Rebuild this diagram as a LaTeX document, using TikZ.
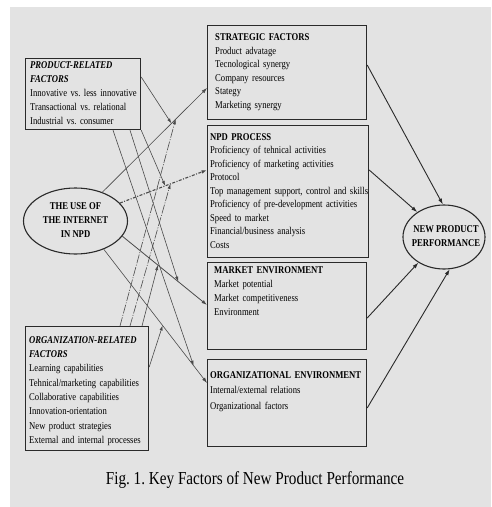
\documentclass[tikz,border=0pt]{standalone}
\usepackage{fontspec}
\setmainfont{Liberation Serif}[FakeStretch=0.83]
\usetikzlibrary{arrows.meta,shapes.geometric,calc}
\definecolor{bg}{HTML}{E3E3E3}
\definecolor{edge}{HTML}{2A2A2A}
\definecolor{conn}{HTML}{4A4A4A}
\frenchspacing
\begin{document}
\begin{tikzpicture}[x=1pt,y=-1pt,
  box/.style={draw=edge,line width=1.2pt,anchor=north west,inner sep=0pt},
  ell/.style={ellipse,draw=edge,line width=1.1pt,inner sep=0pt},
  txt/.style={anchor=base west,inner sep=0pt,align=left,text width=200pt,font=\fontsize{10.4}{#1}\selectfont},
  ctxt/.style={inner sep=0pt,align=center,font=\bfseries\fontsize{10.4}{14}\selectfont},
  mod/.style={draw=conn,line width=0.6pt,-{Latex[length=5pt,width=3.2pt]}},
  moddd/.style={mod,dash pattern=on 9pt off 1.5pt on 1pt off 1.5pt},
  main/.style={draw=conn,line width=0.8pt,-{Latex[length=5.5pt,width=3.6pt]}},
  maindd/.style={main,line width=1.1pt,dash pattern=on 3pt off 1.5pt on 1pt off 1.5pt},
  big/.style={draw=edge,line width=0.9pt,-{Latex[length=6pt,width=4pt]}}]
\useasboundingbox (0,0) rectangle (491,507);
\fill[bg] (10,7) rectangle (491,507);

% boxes
\node[box,minimum width=159pt,minimum height=94pt] (strat) at (207,25) {};
\node[box,minimum width=161pt,minimum height=132pt] (npd) at (207,125) {};
\node[box,minimum width=159pt,minimum height=87pt] (market) at (207,262) {};
\node[box,minimum width=159pt,minimum height=87pt] (orgenv) at (207,359) {};
\node[box,minimum width=115pt,minimum height=71pt] (prod) at (25,58) {};
\node[box,minimum width=123pt,minimum height=124pt] (org) at (25,326) {};
\node[ell,minimum width=104pt,minimum height=66pt] (inet) at (75.5,221) {};
\node[ell,minimum width=82pt,minimum height=64pt] (npp) at (444,237) {};

% texts
\node[txt=13.6] (tstrat) at (215,40.5) {\textbf{STRATEGIC FACTORS}\\Product advatage\\Tecnological synergy\\Company resources\\Stategy\\Marketing synergy};
\node[txt=13.5] (tnpd) at (210,140.3) {\textbf{NPD PROCESS}\\Proficiency of tehnical activities\\Proficiency of marketing activities\\Protocol\\Top management support, control and skills\\Proficiency of pre-development activities\\Speed to market\\Financial/business analysis\\Costs};
\node[txt=14] (tmarket) at (214,273.3) {\textbf{MARKET ENVIRONMENT}\\Market potential\\Market competitiveness\\Environment};
\node[txt=15.5] (torgenv) at (210,378.3) {\textbf{ORGANIZATIONAL ENVIRONMENT}\\Internal/external relations\\Organizational factors};
\node[txt=14] (tprod) at (30,68.3) {\textbf{\textit{PRODUCT-RELATED}}\\\textbf{\textit{FACTORS}}\\Innovative vs. less innovative\\Transactional vs. relational\\Industrial vs. consumer};
\node[txt=14.3] (torg) at (29,343.3) {\textbf{\textit{ORGANIZATION-RELATED}}\\\textbf{\textit{FACTORS}}\\Learning capabilities\\Tehnical/marketing capabilities\\Collaborative capabilities\\Innovation-orientation\\New product strategies\\External and internal processes};
\node[ctxt] (tinet) at (75.5,220) {THE USE OF\\THE INTERNET\\IN NPD};
\node[ctxt] (tnpp) at (446,236) {NEW PRODUCT\\PERFORMANCE};
\node[anchor=base,inner sep=0pt,font=\fontsize{18.3}{20}\selectfont] (cap) at (255,484.5) {Fig. 1. Key Factors of New Product Performance};

% main line end points
\coordinate (s1) at (inet.47);
\coordinate (s2) at (inet.22);
\coordinate (s3) at (inet.-18.6);
\coordinate (s4) at (inet.-45.5);
\coordinate (e1) at ($(strat.north west)+(0,63)$);
\coordinate (e2) at ($(npd.north west)+(0,45)$);
\coordinate (e3) at ($(market.north west)+(0,43)$);
\coordinate (e4) at ($(orgenv.north west)+(0,24)$);
\path (s1) -- (e1) coordinate[pos=0.66] (t1a) coordinate[pos=0.70] (t1b);
\path (s2) -- (e2) coordinate[pos=0.52] (t2a) coordinate[pos=0.58] (t2b);
\path (s3) -- (e3) coordinate[pos=0.66] (t3a) coordinate[pos=0.42] (t3b);
\path (s4) -- (e4) coordinate[pos=0.87] (t4a) coordinate[pos=0.57] (t4b);

% moderator sources
\coordinate (p1) at ($(prod.north east)+(0,19)$);
\coordinate (p2) at (prod.south east);
\coordinate (p3) at ($(prod.south west)+(105,0)$);
\coordinate (p4) at ($(prod.south west)+(88,0)$);
\coordinate (o1) at ($(org.north west)+(95,0)$);
\coordinate (o2) at ($(org.north west)+(105,0)$);
\coordinate (o3) at ($(org.north west)+(117,0)$);
\coordinate (o4) at ($(org.north east)+(0,41)$);

% moderator arrows
\draw[mod] (p1) -- (t1a);
\draw[mod] (p2) -- (t2a);
\draw[mod] (p3) -- (t3a);
\draw[mod] (p4) -- (t4a);
\draw[moddd] (o1) -- (t1b);
\draw[moddd] (o2) -- (t2b);
\draw[mod] (o3) -- (t3b);
\draw[mod] (o4) -- (t4b);

% main arrows from internet
\draw[main,line width=0.6pt] (s1) -- (e1);
\draw[maindd] (s2) -- (e2);
\draw[main] (s3) -- (e3);
\draw[main,line width=0.6pt] (s4) -- (e4);

% arrows to performance
\draw[big] ($(strat.north east)+(0,40)$) -- (npp.92);
\draw[big] ($(npd.north east)+(0,45)$) -- (npp.137);
\draw[big] ($(market.north east)+(0,56)$) -- (npp.-135);
\draw[big] ($(orgenv.north east)+(0,49)$) -- (npp.-80);
\end{tikzpicture}
\end{document}
